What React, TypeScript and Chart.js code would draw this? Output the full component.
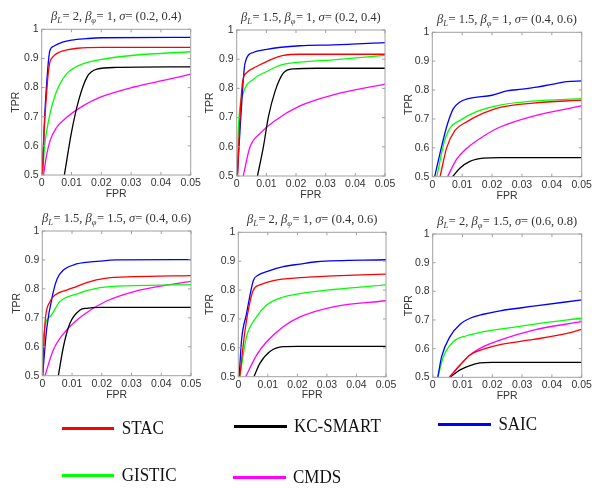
import React, { useEffect, useRef } from 'react';
import { Chart, registerables } from 'chart.js';

Chart.register(...registerables);

type Pt = [number, number];

// ---------- shared labels ----------
const xTickLabels = ['0', '0.01', '0.02', '0.03', '0.04', '0.05'];
const yTickLabels = ['0.5', '0.6', '0.7', '0.8', '0.9', '1'];
const methods = ['STAC', 'KC-SMART', 'SAIC', 'GISTIC', 'CMDS'];
const methodColors = ['#ff0000', '#000000', '#0000ff', '#00ff00', '#ff00ff'];

// panel title parameters
const betaL = ['2', '1.5', '1.5', '1.5', '2', '2'];
const betaPhi = ['1', '1', '1', '1.5', '1', '1.5'];
const sigmaPairs = ['(0.2, 0.4)', '(0.2, 0.4)', '(0.4, 0.6)', '(0.4, 0.6)', '(0.4, 0.6)', '(0.6, 0.8)'];

// ---------- panel 1 : [FPR, TPR] ----------
const p1STAC: Pt[] = [[0.0002, 0.5], [0.0008, 0.65], [0.0015, 0.76], [0.0022, 0.85], [0.0027, 0.885], [0.004, 0.908], [0.006, 0.922], [0.0084, 0.929], [0.012, 0.935], [0.02, 0.938], [0.05, 0.938]];
const p1KC: Pt[] = [[0.0076, 0.5], [0.0101, 0.652], [0.0124, 0.756], [0.0152, 0.836], [0.0185, 0.863], [0.025, 0.869], [0.05, 0.871]];
const p1SAIC: Pt[] = [[0.0002, 0.5], [0.001, 0.7], [0.002, 0.86], [0.0027, 0.925], [0.004, 0.942], [0.007, 0.956], [0.01, 0.963], [0.015, 0.968], [0.02, 0.971], [0.05, 0.972]];
const p1GISTIC: Pt[] = [[0.0003, 0.5], [0.001, 0.6], [0.0017, 0.652], [0.003, 0.72], [0.0045, 0.773], [0.006, 0.81], [0.0084, 0.848], [0.011, 0.868], [0.014, 0.882], [0.0197, 0.896], [0.031, 0.911], [0.05, 0.923]];
const p1CMDS: Pt[] = [[0.0006, 0.5], [0.0015, 0.56], [0.0028, 0.617], [0.005, 0.663], [0.0084, 0.698], [0.014, 0.738], [0.0197, 0.767], [0.031, 0.802], [0.042, 0.827], [0.05, 0.846]];

// ---------- panel 2 ----------
const p2STAC: Pt[] = [[0.0003, 0.5], [0.001, 0.68], [0.002, 0.823], [0.0034, 0.854], [0.0067, 0.875], [0.0101, 0.892], [0.0157, 0.913], [0.0213, 0.917], [0.05, 0.917]];
const p2KC: Pt[] = [[0.007, 0.5], [0.009, 0.6], [0.0107, 0.703], [0.0129, 0.789], [0.0157, 0.852], [0.0191, 0.867], [0.027, 0.869], [0.05, 0.869]];
const p2SAIC: Pt[] = [[0.0002, 0.5], [0.0015, 0.72], [0.0028, 0.886], [0.0056, 0.923], [0.0101, 0.934], [0.0213, 0.946], [0.0326, 0.949], [0.05, 0.957]];
const p2GISTIC: Pt[] = [[0.0002, 0.5], [0.0006, 0.669], [0.0022, 0.783], [0.0056, 0.831], [0.0101, 0.858], [0.0157, 0.882], [0.0213, 0.89], [0.0326, 0.898], [0.05, 0.913]];
const p2CMDS: Pt[] = [[0.0022, 0.5], [0.0045, 0.6], [0.0079, 0.646], [0.0124, 0.686], [0.0213, 0.74], [0.0326, 0.778], [0.05, 0.815]];

// ---------- panel 3 ----------
const p3STAC: Pt[] = [[0.0026, 0.5], [0.0048, 0.6], [0.0076, 0.66], [0.0115, 0.69], [0.0171, 0.72], [0.0227, 0.74], [0.0338, 0.755], [0.05, 0.765]];
const p3KC: Pt[] = [[0.0068, 0.5], [0.0093, 0.53], [0.0126, 0.553], [0.0171, 0.564], [0.0227, 0.566], [0.05, 0.566]];
const p3SAIC: Pt[] = [[0.0008, 0.5], [0.003, 0.6], [0.005, 0.68], [0.007, 0.735], [0.009, 0.757], [0.012, 0.77], [0.02, 0.782], [0.025, 0.797], [0.03, 0.803], [0.035, 0.81], [0.04, 0.82], [0.045, 0.829], [0.05, 0.832]];
const p3GISTIC: Pt[] = [[0.0015, 0.5], [0.004, 0.62], [0.0059, 0.668], [0.0093, 0.695], [0.0148, 0.725], [0.0227, 0.748], [0.0338, 0.762], [0.05, 0.77]];
const p3CMDS: Pt[] = [[0.0051, 0.5], [0.0081, 0.56], [0.0115, 0.598], [0.0171, 0.64], [0.0227, 0.672], [0.0338, 0.71], [0.05, 0.745]];

// ---------- panel 4 ----------
const p4STAC: Pt[] = [[0.0001, 0.5], [0.0009, 0.681], [0.0026, 0.756], [0.0043, 0.779], [0.0082, 0.796], [0.0115, 0.808], [0.0149, 0.822], [0.0216, 0.837], [0.0306, 0.842], [0.05, 0.846]];
const p4KC: Pt[] = [[0.0054, 0.5], [0.0071, 0.6], [0.0093, 0.681], [0.0127, 0.727], [0.0149, 0.733], [0.0194, 0.736], [0.05, 0.736]];
const p4SAIC: Pt[] = [[0.0001, 0.5], [0.0015, 0.664], [0.0037, 0.79], [0.005, 0.835], [0.0071, 0.865], [0.0115, 0.886], [0.0194, 0.896], [0.025, 0.9], [0.05, 0.901]];
const p4GISTIC: Pt[] = [[0.0001, 0.5], [0.0003, 0.623], [0.0026, 0.704], [0.0059, 0.756], [0.0115, 0.782], [0.0194, 0.804], [0.0306, 0.811], [0.05, 0.815]];
const p4CMDS: Pt[] = [[0.0009, 0.5], [0.0037, 0.589], [0.0082, 0.658], [0.0138, 0.71], [0.0216, 0.758], [0.0306, 0.79], [0.0418, 0.813], [0.05, 0.826]];

// ---------- panel 5 ----------
const p5STAC: Pt[] = [[0.0005, 0.5], [0.0023, 0.662], [0.0051, 0.8], [0.0073, 0.818], [0.0119, 0.833], [0.0209, 0.843], [0.0322, 0.849], [0.05, 0.855]];
const p5KC: Pt[] = [[0.0053, 0.5], [0.0073, 0.546], [0.0107, 0.587], [0.0152, 0.604], [0.02, 0.605], [0.05, 0.605]];
const p5SAIC: Pt[] = [[0.0003, 0.5], [0.0011, 0.627], [0.0028, 0.719], [0.0051, 0.833], [0.0068, 0.852], [0.0096, 0.864], [0.0152, 0.881], [0.0209, 0.89], [0.0265, 0.898], [0.05, 0.905]];
const p5GISTIC: Pt[] = [[0.0005, 0.5], [0.0028, 0.639], [0.0062, 0.707], [0.0096, 0.748], [0.0152, 0.776], [0.0209, 0.788], [0.0322, 0.802], [0.05, 0.818]];
const p5CMDS: Pt[] = [[0.0025, 0.5], [0.0062, 0.575], [0.0096, 0.621], [0.0152, 0.673], [0.0209, 0.707], [0.0322, 0.742], [0.05, 0.763]];

// ---------- panel 6 ----------
const p6STAC: Pt[] = [[0.0056, 0.5], [0.0092, 0.543], [0.0125, 0.578], [0.017, 0.598], [0.0226, 0.614], [0.0338, 0.632], [0.0447, 0.652], [0.05, 0.667]];
const p6KC: Pt[] = [[0.0058, 0.5], [0.0092, 0.526], [0.0125, 0.541], [0.0159, 0.55], [0.02, 0.552], [0.05, 0.552]];
const p6SAIC: Pt[] = [[0.0017, 0.5], [0.003, 0.572], [0.0058, 0.642], [0.0092, 0.685], [0.0125, 0.706], [0.017, 0.72], [0.0226, 0.732], [0.0338, 0.748], [0.05, 0.77]];
const p6GISTIC: Pt[] = [[0.0017, 0.5], [0.0036, 0.572], [0.0069, 0.624], [0.0114, 0.645], [0.017, 0.659], [0.0226, 0.668], [0.0338, 0.685], [0.05, 0.706]];
const p6CMDS: Pt[] = [[0.0056, 0.5], [0.0092, 0.543], [0.0125, 0.578], [0.017, 0.607], [0.0226, 0.63], [0.0338, 0.665], [0.05, 0.694]];

const panelSeries: Pt[][][] = [
  [p1STAC, p1KC, p1SAIC, p1GISTIC, p1CMDS],
  [p2STAC, p2KC, p2SAIC, p2GISTIC, p2CMDS],
  [p3STAC, p3KC, p3SAIC, p3GISTIC, p3CMDS],
  [p4STAC, p4KC, p4SAIC, p4GISTIC, p4CMDS],
  [p5STAC, p5KC, p5SAIC, p5GISTIC, p5CMDS],
  [p6STAC, p6KC, p6SAIC, p6GISTIC, p6CMDS],
];

// ---------- layout (page pixels) ----------
interface Box { l: number; t: number; r: number; b: number; tprDist: number; fprDist: number; }
const panelBoxes: Box[] = [
  { l: 41.7, t: 29.3, r: 190.7, b: 175, tprDist: 25.4, fprDist: 19.5 },
  { l: 236.7, t: 30, r: 385, b: 176, tprDist: 26.7, fprDist: 19.5 },
  { l: 432.3, t: 32.3, r: 581.7, b: 176.7, tprDist: 23.3, fprDist: 19 },
  { l: 42.3, t: 231, r: 191, b: 375.7, tprDist: 25.6, fprDist: 19 },
  { l: 238.3, t: 232.3, r: 386, b: 376.7, tprDist: 28.3, fprDist: 18.5 },
  { l: 432.7, t: 234, r: 581.7, b: 377.3, tprDist: 23.7, fprDist: 18.5 },
];

const SANS = 'Arial, "Liberation Sans", sans-serif';
const SERIF = '"Times New Roman", "Liberation Serif", serif';
const TEXT_GRAY = '#333333';
const FRAME_GRAY = '#a0a0a0';
const Y_AXIS_W = 40;
const X_AXIS_H = 30;
const TITLE_SPACE = 26;

function geom(b: Box) {
  const cl = Math.floor(b.l - Y_AXIS_W);
  const ct = Math.floor(b.t - TITLE_SPACE);
  const cw = Math.ceil(b.r + 15 - cl);
  const ch = Math.ceil(b.b + X_AXIS_H - ct);
  return { cl, ct, cw, ch };
}

function Panel({ idx }: { idx: number }) {
  const ref = useRef<HTMLCanvasElement>(null);
  const box = panelBoxes[idx];
  const g = geom(box);

  useEffect(() => {
    if (!ref.current) return;
    const series = panelSeries[idx];
    const yAxisW = box.l - g.cl;
    const padTop = box.t - g.ct;
    const padRight = g.cl + g.cw - box.r;
    const xAxisH = g.ct + g.ch - box.b;
    const axisFont = 10.5;
    const lh = axisFont * 1.2;

    const titleSegs: { t: string; s: 'n' | 'i' | 'sub' }[] = [
      { t: 'β', s: 'i' }, { t: 'L', s: 'sub' }, { t: '= ' + betaL[idx] + ', ', s: 'n' },
      { t: 'β', s: 'i' }, { t: 'φ', s: 'sub' }, { t: '= ' + betaPhi[idx] + ', ', s: 'n' },
      { t: 'σ', s: 'i' }, { t: '= ' + sigmaPairs[idx], s: 'n' },
    ];

    const titlePlugin = {
      id: 'panelTitle',
      afterDraw(chart: any) {
        const ctx = chart.ctx as CanvasRenderingContext2D;
        const size = 12.5;
        const subSize = 8.5;
        const fontOf = (s: string) =>
          s === 'sub' ? `italic ${subSize}px ${SERIF}` : s === 'i' ? `italic ${size}px ${SERIF}` : `${size}px ${SERIF}`;
        ctx.save();
        let total = 0;
        const widths = titleSegs.map((seg) => {
          ctx.font = fontOf(seg.s);
          const w = ctx.measureText(seg.t).width + (seg.s === 'sub' ? 0.5 : 0);
          total += w;
          return w;
        });
        const area = chart.chartArea;
        let x = (area.left + area.right) / 2 - total / 2;
        const y = area.top - 9;
        ctx.fillStyle = TEXT_GRAY;
        ctx.textBaseline = 'alphabetic';
        ctx.textAlign = 'left';
        titleSegs.forEach((seg, i) => {
          ctx.font = fontOf(seg.s);
          ctx.fillText(seg.t, x, y + (seg.s === 'sub' ? 3 : 0));
          x += widths[i];
        });
        ctx.restore();
      },
    };

    const framePlugin = {
      id: 'panelFrame',
      afterDatasetsDraw(chart: any) {
        const ctx = chart.ctx as CanvasRenderingContext2D;
        const a = chart.chartArea;
        const xs = chart.scales.x;
        const ys = chart.scales.y;
        const tk = 3;
        ctx.save();
        ctx.strokeStyle = FRAME_GRAY;
        ctx.lineWidth = 1;
        ctx.beginPath();
        xTickLabels.forEach((lab) => {
          const px = xs.getPixelForValue(Number(lab));
          ctx.moveTo(px, a.bottom);
          ctx.lineTo(px, a.bottom - tk);
          ctx.moveTo(px, a.top);
          ctx.lineTo(px, a.top + tk);
        });
        yTickLabels.forEach((lab) => {
          const py = ys.getPixelForValue(Number(lab));
          ctx.moveTo(a.left, py);
          ctx.lineTo(a.left + tk, py);
          ctx.moveTo(a.right, py);
          ctx.lineTo(a.right - tk, py);
        });
        ctx.stroke();
        ctx.strokeRect(a.left, a.top, a.right - a.left, a.bottom - a.top);
        ctx.restore();
      },
    };

    const chart = new Chart(ref.current, {
      type: 'line',
      data: {
        datasets: series.map((s, i) => ({
          label: methods[i],
          data: s.map(([x, y]) => ({ x, y })),
          borderColor: methodColors[i],
          backgroundColor: methodColors[i],
          borderWidth: 1.3,
          pointRadius: 0,
          fill: false,
          cubicInterpolationMode: 'monotone' as const,
        })),
      },
      options: {
        responsive: false,
        animation: false,
        devicePixelRatio: 1,
        events: [],
        layout: { padding: { left: 0, top: padTop, right: padRight, bottom: 0 } },
        plugins: {
          legend: { display: false },
          tooltip: { enabled: false },
          title: { display: false },
        },
        scales: {
          x: {
            type: 'linear',
            min: 0,
            max: 0.05,
            afterBuildTicks: (scale: any) => {
              scale.ticks = xTickLabels.map((l) => ({ value: Number(l) }));
            },
            ticks: {
              callback: (_v: any, i: number) => xTickLabels[i],
              font: { family: SANS, size: axisFont },
              color: TEXT_GRAY,
              padding: 2,
              maxRotation: 0,
              autoSkip: false,
            },
            grid: { display: false, drawTicks: false },
            border: { display: false },
            title: {
              display: true,
              text: 'FPR',
              font: { family: SANS, size: axisFont },
              color: TEXT_GRAY,
              padding: { top: 0, bottom: xAxisH - box.fprDist - lh / 2 },
            },
            afterFit: (scale: any) => {
              scale.height = xAxisH;
              scale.paddingLeft = 0;
              scale.paddingRight = 0;
            },
          },
          y: {
            type: 'linear',
            min: 0.5,
            max: 1,
            afterBuildTicks: (scale: any) => {
              scale.ticks = yTickLabels.map((l) => ({ value: Number(l) }));
            },
            ticks: {
              callback: (_v: any, i: number) => yTickLabels[i],
              font: { family: SANS, size: axisFont },
              color: TEXT_GRAY,
              padding: 3,
              autoSkip: false,
            },
            grid: { display: false, drawTicks: false },
            border: { display: false },
            title: {
              display: true,
              text: 'TPR',
              font: { family: SANS, size: axisFont },
              color: TEXT_GRAY,
              padding: { top: yAxisW - box.tprDist - lh / 2, bottom: 0 },
            },
            afterFit: (scale: any) => {
              scale.width = yAxisW;
              scale.paddingTop = 0;
              scale.paddingBottom = 0;
            },
          },
        },
      } as any,
      plugins: [framePlugin, titlePlugin],
    });
    return () => chart.destroy();
  }, [idx]);

  return (
    <canvas
      ref={ref}
      width={g.cw}
      height={g.ch}
      style={{ position: 'absolute', left: g.cl, top: g.ct, width: g.cw, height: g.ch }}
    />
  );
}

// legend placement (page pixels)
const legendSpots = [
  { x: 61.7, y: 428 },
  { x: 234, y: 426 },
  { x: 438.4, y: 424.7 },
  { x: 61.7, y: 475.3 },
  { x: 233, y: 477 },
];

function Legend() {
  return (
    <>
      {methods.map((m, i) => {
        const s = legendSpots[i];
        return (
          <React.Fragment key={m}>
            <div
              style={{
                position: 'absolute',
                left: s.x,
                top: s.y - 1.5,
                width: 52.5,
                height: 3,
                background: methodColors[i],
              }}
            />
            <div
              style={{
                position: 'absolute',
                left: s.x + 60,
                top: s.y - 9.3,
                height: 17,
                lineHeight: '17px',
                fontFamily: SERIF,
                fontSize: 17,
                color: '#111',
                whiteSpace: 'nowrap',
                transform: 'scaleY(1.1)',
                transformOrigin: 'left center',
              }}
            >
              {m}
            </div>
          </React.Fragment>
        );
      })}
    </>
  );
}

export default function App() {
  return (
    <div
      style={{
        position: 'absolute',
        left: 0,
        top: 0,
        width: 600,
        height: 488,
        overflow: 'hidden',
        background: '#ffffff',
      }}
    >
      {panelBoxes.map((_, i) => (
        <Panel key={i} idx={i} />
      ))}
      <Legend />
    </div>
  );
}
